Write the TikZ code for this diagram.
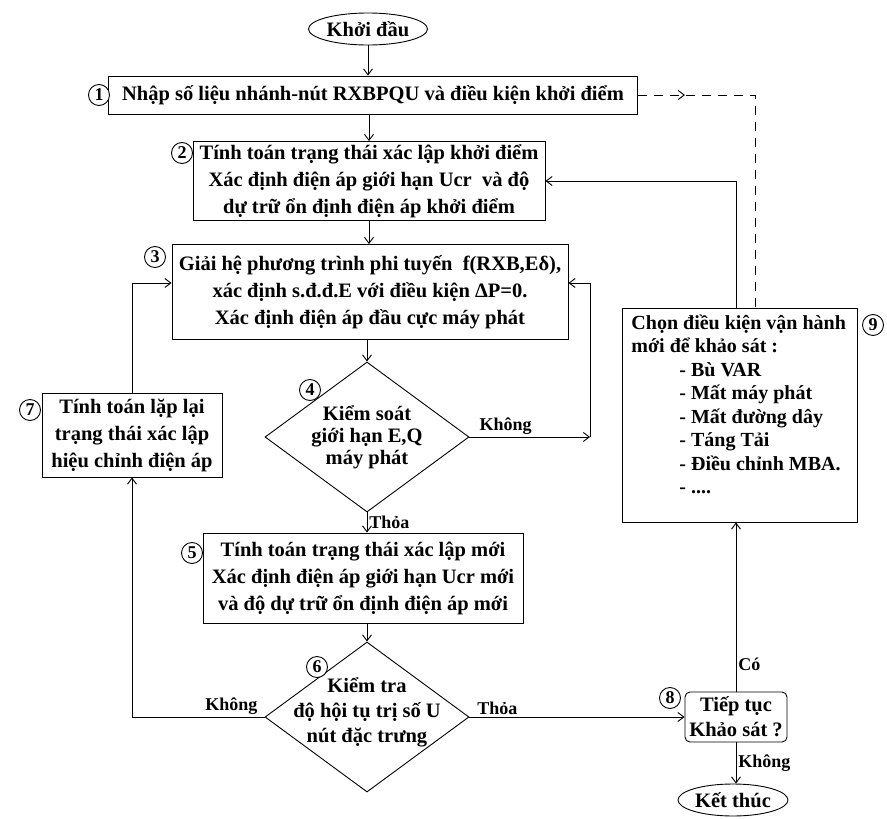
\documentclass[tikz,border=0pt]{standalone}
\usepackage{fontspec}
\setmainfont{Liberation Serif}
\usetikzlibrary{arrows.meta, shapes.geometric, decorations.markings}

\begin{document}
\begin{tikzpicture}[x=1pt, y=-1pt,
	font=\fontsize{20.5}{27}\selectfont\bfseries,
	line width=0.9pt,
	khung/.style={draw, align=center, inner sep=0pt},
	thoi/.style={draw, diamond, inner sep=0pt, minimum width=204, minimum height=150},
	vong/.style={draw, ellipse, inner sep=0pt},
	so/.style={draw, circle, fill=white, inner sep=0pt, minimum size=21, font=\fontsize{18}{18}\selectfont\bfseries},
	mui/.style={-{Straight Barb[length=6pt, width=9pt]}},
	nhan/.style={font=\fontsize{18}{18}\selectfont\bfseries, inner sep=2pt}]
	\useasboundingbox (0,0) rectangle (887,819);
	
	\node[vong, minimum width=119, minimum height=32] (batdau) at (368,29) {Khởi đầu};
	\node[khung, minimum width=529, minimum height=38] (b1) at (373,95) {Nhập số liệu nhánh-nút RXBPQU và điều kiện khởi điểm};
	\node[khung, minimum width=352, minimum height=79] (b2) at (369,181) {Tính toán trạng thái xác lập khởi điểm\\ Xác định điện áp giới hạn Ucr\ \ và độ\\ dự trữ ổn định điện áp khởi điểm};
	\node[khung, minimum width=396, minimum height=95] (b3) at (370,292) {Giải hệ phương trình phi tuyến\ \ f(RXB,Eδ),\\ xác định s.đ.đ.E với điều kiện ΔP=0.\\ Xác định điện áp đầu cực máy phát};
	\node[thoi] (kt4) at (367,437) {};
	\node[align=center, font=\fontsize{20.5}{22}\selectfont\bfseries] (kt4chu) at (367,437) {Kiểm soát\\ giới hạn E,Q\\ máy phát};
	\node[khung, minimum width=320, minimum height=90] (b5) at (363,578) {Tính toán trạng thái\ xác lập mới\\ Xác định điện áp giới hạn Ucr mới\\ và độ dự trữ ổn định điện áp mới};
	\node[thoi] (kt6) at (367,717) {};
	\node[align=center, font=\fontsize{20.5}{25}\selectfont\bfseries] (kt6chu) at (367,712) {Kiểm tra\\ độ hội tụ trị số U\\ nút đặc trưng};
	\node[khung, minimum width=180, minimum height=84] (b7) at (132,435) {Tính toán lặp lại\\ trạng thái xác lập\\ hiệu chỉnh điện áp};
	\node[khung, rounded corners=5pt, minimum width=102, minimum height=50, font=\fontsize{20.5}{25}\selectfont\bfseries] (b8) at (736,717) {Tiếp tục\\ Khảo sát ?};
	\node[khung, minimum width=235, minimum height=214] (b9) at (740,415) {};
	\node[anchor=north west, align=left, inner sep=0pt, font=\fontsize{20}{23.5}\selectfont\bfseries] (b9chu) at (631,314) {Chọn điều kiện vận hành\\ mới để khảo sát :\\
		\hspace*{48pt}- Bù VAR\\ \hspace*{48pt}- Mất máy phát\\ \hspace*{48pt}- Mất đường dây\\
		\hspace*{48pt}- Táng Tải\\ \hspace*{48pt}- Điều chỉnh MBA.\\ \hspace*{48pt}- ....};
	\node[vong, minimum width=110, minimum height=32] (ketthuc) at (733,800) {Kết thúc};
	
	% so thu tu
	\foreach \n/\x/\y in {1/99/95, 2/182/153, 3/155/257, 4/310/390, 5/192/553, 6/317/667, 7/30/410, 8/670/698, 9/873/325}{
		\node[so] (so\n) at (\x,\y) {\n};
	}
	
	\coordinate (goc4) at (590,437);
	\coordinate (gocnet) at (755,95);
	
	\draw[mui] (batdau) -- (batdau |- b1.north);
	\draw[mui] (b1.south -| b2.north) -- (b2.north);
	\draw[mui] (b2.south) -- (b2.south |- b3.north);
	\draw[mui] (b3.south -| kt4.north) -- (kt4.north);
	\draw[mui] (kt4.south) -- (kt4.south |- b5.north) node[nhan, midway, right] {Thỏa};
	\draw[mui] (b5.south -| kt6.north) -- (kt6.north);
	\draw[mui] (kt4.east) -- (goc4) node[nhan, pos=0.3, above] {Không};
	\draw[mui] (goc4) |- ([yshift=9pt]b3.east);
	\draw[mui] (kt6.west) -| (b7.south) node[nhan, pos=0.125, above] {Không};
	\draw[mui] (b7.north) |- ([yshift=9pt]b3.west);
	\draw[mui] (kt6.east) -- (b8.west) node[nhan, pos=0.13, above] {Thỏa};
	\draw[mui] (b8.north) -- (b8.north |- b9.south) node[nhan, pos=0.16, right] {Có};
	\draw[mui] (b8.south) -- (b8.south |- ketthuc.north) node[nhan, midway, right] {Không};
	\draw[mui] (b8.north |- b9.north) |- (b2.east);
	\draw[dash pattern=on 9pt off 7pt, postaction={decorate},
		decoration={markings, mark=at position 47pt with {\arrow{Straight Barb[length=6pt, width=9pt]}}}]
		(b1.east) -- (gocnet) -- (gocnet |- b9.north);
\end{tikzpicture}
\end{document}
